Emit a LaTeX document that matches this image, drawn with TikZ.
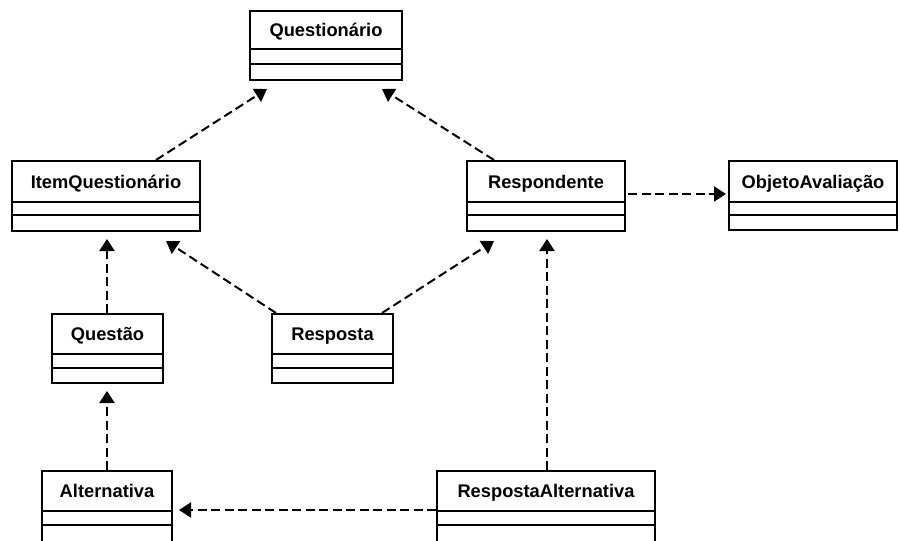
\documentclass[tikz,border=0pt]{standalone}
\usepackage{fontspec}
\setmainfont{Liberation Sans}
\usetikzlibrary{arrows.meta,calc,fit}

\tikzset{
  classbox/.style={draw, line width=2pt, inner sep=0pt},
  classname/.style={font=\bfseries\fontsize{18.3}{20}\selectfont, inner sep=0pt, anchor=base},
  compline/.style={line width=2pt},
  dep/.style={line width=2pt, dash pattern=on 9pt off 4.5pt,
              -{Triangle[length=12pt,width=15pt]}},
}

% UML class: name, x1, y1, x2, y2, first divider y, second divider y, title
\newcommand\umlclass[8]{%
  \node[classbox, fit={(#2,#3) (#4,#5)}] (#1) {};
  \node[classname] (#1-name) at ({(#2+#4)/2},{(#3+#6)/2+6.5}) {#8};
  \draw[compline] (#2,#6) -- (#4,#6) (#2,#7) -- (#4,#7);
}

\begin{document}
\begin{tikzpicture}[x=1pt, y=-1pt]
  \fill[white] (0,0) rectangle (900,541);
  \useasboundingbox (0,0) rectangle (900,541);

  \umlclass{q}{250}{11}{402}{80}{49}{64}{Questionário}
  \umlclass{iq}{12}{161}{200}{231}{202}{215}{ItemQuestionário}
  \umlclass{r}{467}{161}{625}{231}{202}{215}{Respondente}
  \umlclass{oa}{729}{161}{897}{230}{202}{215}{ObjetoAvaliação}
  \umlclass{qt}{52}{314}{163}{383}{354}{368}{Questão}
  \umlclass{rp}{272}{314}{393}{383}{354}{368}{Resposta}
  \umlclass{a}{42}{471}{172}{548}{511}{525}{Alternativa}
  \umlclass{ra}{437}{471}{655}{548}{511}{525}{RespostaAlternativa}

  % dependencies
  \draw[dep] ($(iq.north west)+(145,0)$) -- ($(q.south west)+(18,8)$);
  \draw[dep] ($(r.north west)+(28,0)$) -- ($(q.south west)+(133,8)$);
  \draw[dep] ($(r.north east)+(2,34)$) -- ($(oa.north west)+(-2,34)$);
  \draw[dep] ($(rp.north west)+(5,0)$) -- ($(iq.south west)+(155,9)$);
  \draw[dep] ($(rp.north west)+(111,0)$) -- ($(r.south west)+(28,9)$);
  \draw[dep] ($(qt.north west)+(56,0)$) -- ($(iq.south west)+(96,7)$);
  \draw[dep] ($(a.north west)+(66,0)$) -- ($(qt.south west)+(56,7)$);
  \draw[dep] ($(ra.north west)+(111,0)$) -- ($(r.south west)+(81,7)$);
  \draw[dep] ($(ra.north west)+(0,40)$) -- ($(a.north east)+(6,40)$);
\end{tikzpicture}
\end{document}
